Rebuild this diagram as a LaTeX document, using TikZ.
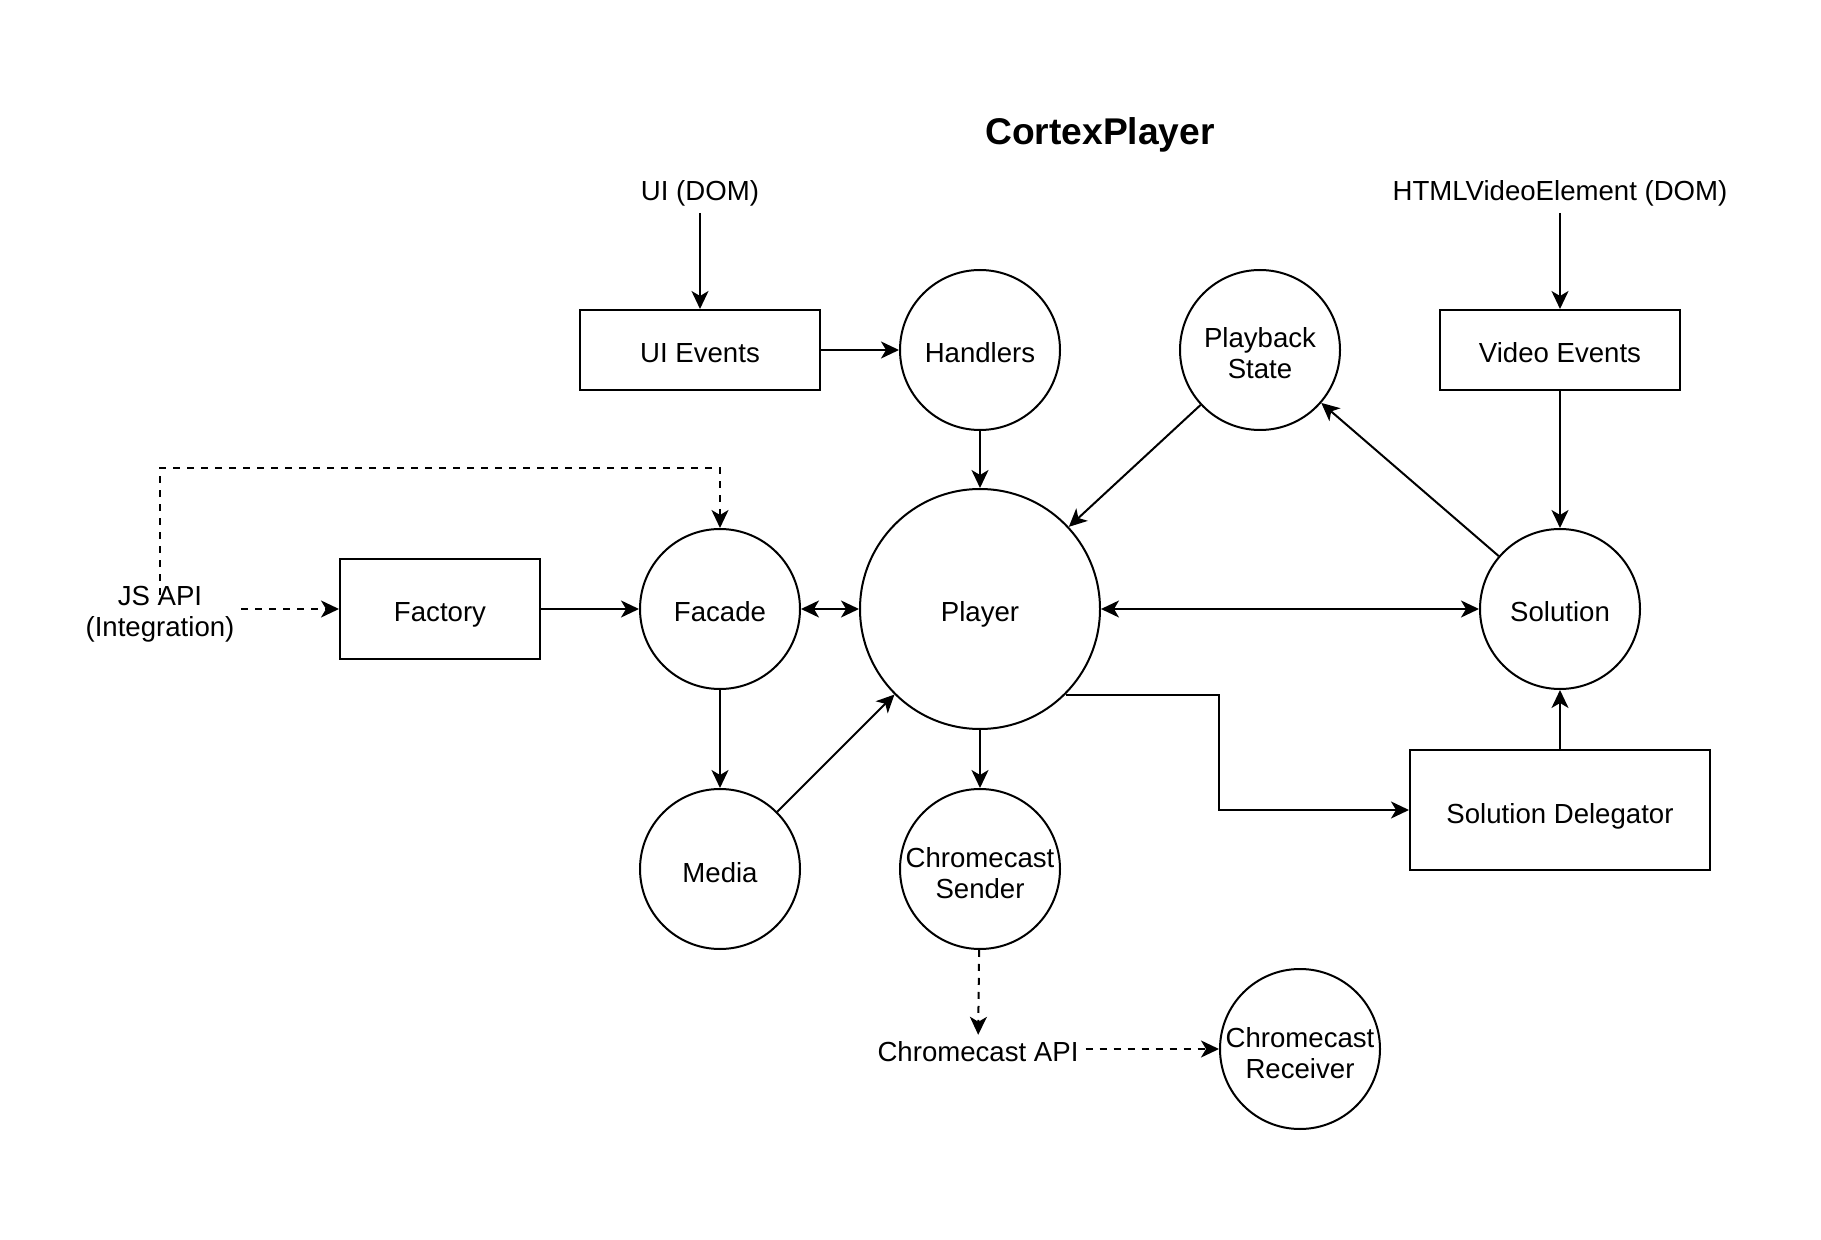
\documentclass[tikz,border=0pt]{standalone}
\usepackage{fontspec}
\setmainfont{Liberation Sans}
\usetikzlibrary{arrows.meta}

\begin{document}
\begin{tikzpicture}[
		x=0.5pt, y=-0.5pt,
		every node/.style={font=\fontsize{13.8}{15.5}\selectfont, align=center},
		box/.style={draw, line width=1pt, rectangle, inner sep=0pt, text height=13pt, text depth=0pt},
		proc/.style={draw, line width=1pt, circle, inner sep=0pt, minimum size=80pt, text height=13pt, text depth=0pt},
		proctwo/.style={draw, line width=1pt, circle, inner sep=0pt, minimum size=80pt, text height=29pt, text depth=0pt},
		arr/.style={line width=1pt, ->, >={Stealth[length=9pt, width=8.5pt, inset=2.5pt]}},
		dasharr/.style={arr, dash pattern=on 3.5pt off 3.5pt},
	]
		\useasboundingbox (0,0) rectangle (1821,1240);

		\node[font=\fontsize{18.6}{22}\selectfont\bfseries] (title) at (1100,135) {CortexPlayer};

		% sources on top
		\node (uidom) at (700,193) {UI (DOM)};
		\node (htmlvid) at (1560,193) {HTMLVideoElement (DOM)};
		\node[box, minimum width=120pt, minimum height=40pt] (uievents) at (700,350) {UI Events};
		\node[box, minimum width=120pt, minimum height=40pt] (videvents) at (1560,350) {Video Events};
		\node[proc] (handlers) at (980,350) {Handlers};
		\node[proctwo] (pbstate) at (1260,350) {Playback\\State};

		% middle row
		\node (jsapi) at (160,614) {JS API\\(Integration)};
		\node[box, minimum width=100pt, minimum height=50pt] (factory) at (440,609) {Factory};
		\node[proc] (facade) at (720,609) {Facade};
		\node[proc, minimum size=120pt] (player) at (980,609) {Player};
		\node[proc] (solution) at (1560,609) {Solution};

		% bottom
		\node[proc] (media) at (720,869) {Media};
		\node[proctwo] (ccsender) at (980,869) {Chromecast\\Sender};
		\node[box, minimum width=150pt, minimum height=60pt] (delegator) at (1560,810) {Solution Delegator};
		\node (ccapi) at (978,1052) {Chromecast API};
		\node[proctwo] (ccreceiver) at (1300,1049) {Chromecast\\Receiver};

		\draw[arr] (uidom) -- (uievents);
		\draw[arr] (htmlvid) -- (videvents);
		\draw[arr] (uievents) -- (handlers);
		\draw[arr] (handlers) -- (player);
		\draw[arr] (pbstate) -- (player);
		\draw[arr] (solution) -- (pbstate);
		\draw[arr] (videvents) -- (solution);
		\draw[arr, <->] (player) -- (solution);
		\draw[arr, <->] (facade) -- (player);
		\draw[arr] (factory) -- (facade);
		\draw[dasharr] (jsapi.east |- factory) -- (factory);
		\draw[dasharr] ([yshift=-8pt]jsapi.north) |- ([yshift=30pt]facade.north) -- (facade.north);
		\draw[arr] (facade) -- (media);
		\draw[arr] (media) -- (player);
		\draw[arr] (player) -- (ccsender);
		\draw[arr] (player.south east) -| ([xshift=-95pt]delegator.west) -- (delegator.west);
		\draw[arr] (delegator) -- (solution);
		\draw[dasharr] (ccsender) -- (ccapi);
		\draw[dasharr] (ccapi.east |- ccreceiver) -- (ccreceiver);
	\end{tikzpicture}
\end{document}
